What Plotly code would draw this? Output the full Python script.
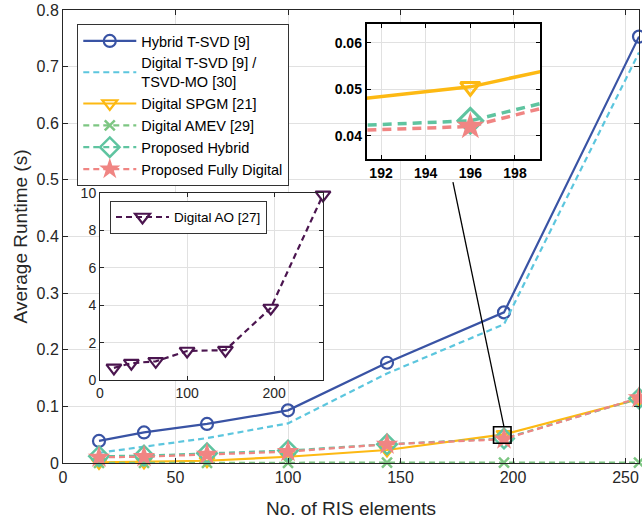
import plotly.graph_objects as go

# Runtime vs. number of RIS elements
ris_elements = [16, 36, 64, 100, 144, 196, 256]
hybrid_tsvd = [0.039, 0.054, 0.069, 0.093, 0.177, 0.266, 0.753]
digital_tsvd = [0.018, 0.029, 0.044, 0.070, 0.158, 0.245, 0.725]
digital_spgm = [0.001, 0.002, 0.004, 0.011, 0.023, 0.0505, 0.113]
digital_amev = [0.0003, 0.0003, 0.0004, 0.0004, 0.0005, 0.0006, 0.0008]
proposed_hybrid = [0.012, 0.013, 0.017, 0.022, 0.033, 0.0432, 0.114]
proposed_digital = [0.010, 0.011, 0.015, 0.020, 0.033, 0.0420, 0.115]
digital_ao = [0.65, 0.9, 1.0, 1.55, 1.6, 3.85, 9.9]

x_ticks = [0, 50, 100, 150, 200, 250]
y_ticks = [0, 0.1, 0.2, 0.3, 0.4, 0.5, 0.6, 0.7, 0.8]
ao_x_ticks = [0, 100, 200]
ao_y_ticks = [0, 2, 4, 6, 8, 10]
zoom_x_ticks = [192, 194, 196, 198]
zoom_y_ticks = [0.04, 0.05, 0.06]

FONT = "Liberation Sans, Arial, Helvetica, sans-serif"
C_BLUE = "#3953A4"
C_CYAN = "#5CC6DE"
C_ORANGE = "#FDB913"
C_GREEN = "#7DC682"
C_TEAL = "#5FC4A0"
C_PINK = "#F08583"
C_PURPLE = "#4B154F"
DASH = "6px,4px"

fig = go.Figure()

# main panel
fig.add_trace(go.Scatter(
    x=ris_elements, y=hybrid_tsvd, name="Hybrid T-SVD [9]", mode="lines+markers",
    line=dict(color=C_BLUE, width=2.2),
    marker=dict(symbol="circle-open", size=12, line=dict(width=2.2, color=C_BLUE)),
    cliponaxis=False))
fig.add_trace(go.Scatter(
    x=ris_elements, y=digital_tsvd, name="Digital T-SVD [9] /<br>TSVD-MO [30]", mode="lines",
    line=dict(color=C_CYAN, width=2.2, dash=DASH), cliponaxis=False))
fig.add_trace(go.Scatter(
    x=ris_elements, y=digital_spgm, name="Digital SPGM [21]", mode="lines+markers",
    line=dict(color=C_ORANGE, width=2.2),
    marker=dict(symbol="triangle-down-open", size=13, line=dict(width=2.2, color=C_ORANGE)),
    cliponaxis=False))
fig.add_trace(go.Scatter(
    x=ris_elements, y=digital_amev, name="Digital AMEV [29]", mode="lines+markers",
    line=dict(color=C_GREEN, width=2.2, dash=DASH),
    marker=dict(symbol="x-thin-open", size=10, line=dict(width=2.5, color=C_GREEN)),
    cliponaxis=False))
fig.add_trace(go.Scatter(
    x=ris_elements, y=proposed_hybrid, name="Proposed Hybrid", mode="lines+markers",
    line=dict(color=C_TEAL, width=2.2, dash=DASH),
    marker=dict(symbol="diamond-open", size=15, line=dict(width=2.5, color=C_TEAL)),
    cliponaxis=False))
fig.add_trace(go.Scatter(
    x=ris_elements, y=proposed_digital, name="Proposed Fully Digital", mode="lines+markers",
    line=dict(color=C_PINK, width=2.2, dash=DASH),
    marker=dict(symbol="star", size=17, color=C_PINK, line=dict(width=0)),
    cliponaxis=False))

# inset: Digital AO
fig.add_trace(go.Scatter(
    x=ris_elements, y=digital_ao, name="Digital AO [27]", mode="lines+markers",
    xaxis="x2", yaxis="y2", legend="legend2",
    line=dict(color=C_PURPLE, width=2.2, dash=DASH),
    marker=dict(symbol="triangle-down-open", size=13, line=dict(width=2.2, color=C_PURPLE)),
    cliponaxis=False))

# inset: zoom around 196 elements
fig.add_trace(go.Scatter(
    x=ris_elements, y=digital_spgm, mode="lines+markers", showlegend=False,
    xaxis="x3", yaxis="y3",
    line=dict(color=C_ORANGE, width=3.5),
    marker=dict(symbol="triangle-down-open", size=17, line=dict(width=3, color=C_ORANGE))))
fig.add_trace(go.Scatter(
    x=ris_elements, y=proposed_hybrid, mode="lines+markers", showlegend=False,
    xaxis="x3", yaxis="y3",
    line=dict(color=C_TEAL, width=3.5, dash="9px,6px"),
    marker=dict(symbol="diamond-open", size=19, line=dict(width=3, color=C_TEAL))))
fig.add_trace(go.Scatter(
    x=ris_elements, y=proposed_digital, mode="lines+markers", showlegend=False,
    xaxis="x3", yaxis="y3",
    line=dict(color=C_PINK, width=3.5, dash="9px,6px"),
    marker=dict(symbol="star", size=21, color=C_PINK, line=dict(width=0))))

GRID = "#E1E1E1"
AX = "#262626"

def axis_style(**kw):
    base = dict(showline=True, linecolor=AX, linewidth=1, mirror="ticks",
                ticks="inside", ticklen=5, tickcolor=AX, showgrid=True,
                gridcolor=GRID, gridwidth=1, zeroline=False,
                tickfont=dict(family=FONT, size=16, color=AX))
    base.update(kw)
    return base

zoom_x = [191.36, 199.12]
zoom_y = [0.035, 0.064]
main_x = [0, 256]
main_y = [0, 0.8]

fig.update_layout(
    width=642, height=524,
    margin=dict(l=63, r=3, t=10, b=61),
    paper_bgcolor="white", plot_bgcolor="white",
    font=dict(family=FONT, color=AX),
    xaxis=axis_style(domain=[0, 1], range=main_x, tickvals=x_ticks,
                     title=dict(text="No. of RIS elements", font=dict(size=19, family=FONT, color=AX), standoff=16)),
    yaxis=axis_style(domain=[0, 1], range=main_y, tickvals=y_ticks,
                     ticktext=["0", "0.1", "0.2", "0.3", "0.4", "0.5", "0.6", "0.7", "0.8"],
                     title=dict(text="Average Runtime (s)", font=dict(size=19, family=FONT, color=AX), standoff=3)),
    xaxis2=axis_style(domain=[0.0642, 0.4514], range=[0, 256], tickvals=ao_x_ticks, anchor="y2",
                      tickfont=dict(family=FONT, size=14, color=AX), ticklen=4),
    yaxis2=axis_style(domain=[0.1832, 0.596], range=[0, 10], tickvals=ao_y_ticks, anchor="x2",
                      tickfont=dict(family=FONT, size=14, color=AX), ticklen=4),
    xaxis3=axis_style(domain=[0.5273, 0.8281], range=zoom_x, tickvals=zoom_x_ticks, anchor="y3",
                      linecolor="black", linewidth=2, tickcolor="black", ticklen=4,
                      tickfont=dict(family=FONT, size=14, color="black", weight="bold")),
    yaxis3=axis_style(domain=[0.6711, 0.9691], range=zoom_y, tickvals=zoom_y_ticks, anchor="x3",
                      linecolor="black", linewidth=2, tickcolor="black", ticklen=4,
                      tickformat=".2f",
                      tickfont=dict(family=FONT, size=14, color="black", weight="bold")),
    legend=dict(x=0.0248, y=0.969, xanchor="left", yanchor="top",
                bgcolor="white", bordercolor="#333333", borderwidth=1,
                font=dict(family=FONT, size=14.5, color="black"),
                itemwidth=53, tracegroupgap=0),
    legend2=dict(x=0.0816, y=0.579, xanchor="left", yanchor="top",
                 bgcolor="white", bordercolor="#333333", borderwidth=1,
                 font=dict(family=FONT, size=13.5, color="black"),
                 itemwidth=53),
    showlegend=True,
)

# zoom marker box and connector
fig.add_shape(type="rect", xref="x", yref="y",
              x0=zoom_x[0], x1=zoom_x[1], y0=zoom_y[0], y1=zoom_y[1],
              line=dict(color="black", width=1.6), layer="above")
fig.add_shape(type="line", xref="paper", yref="paper",
              x0=0.677, y0=0.620,
              x1=(196 - main_x[0]) / (main_x[1] - main_x[0]),
              y1=(zoom_y[1] - main_y[0]) / (main_y[1] - main_y[0]),
              line=dict(color="black", width=1.3), layer="above")

fig.write_html("out.html")
